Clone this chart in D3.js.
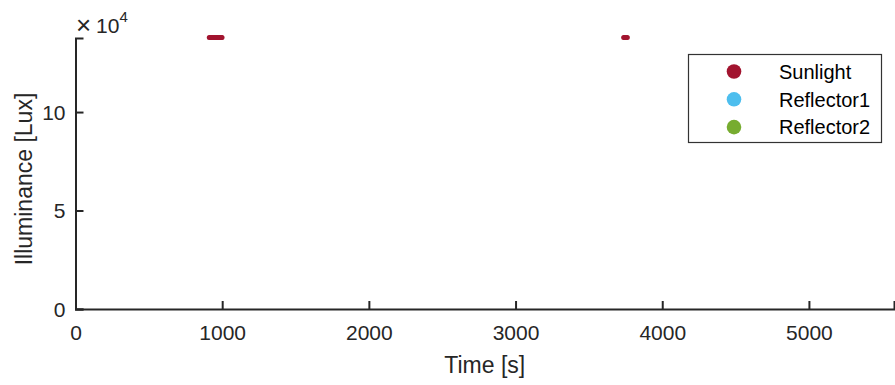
<!DOCTYPE html>
<html>
<head>
<meta charset="utf-8">
<script src="https://cdn.jsdelivr.net/npm/d3@7"></script>
<style>
  html, body { margin: 0; padding: 0; background: #fff; }
  svg { display: block; font-family: "Liberation Sans", Arial, Helvetica, sans-serif; }
</style>
</head>
<body>
<svg id="chart" width="895" height="385"></svg>
<script>
// ---- data ----
const seriesNames = ["Sunlight", "Reflector1", "Reflector2"];
const seriesColors = ["#A2142F", "#4DBEEE", "#77AC30"];
const sunlightTime = [912, 920, 928, 936, 944, 952, 960, 968, 976, 984, 992, 999, 3737, 3745, 3753, 3762];
const sunlightLux  = [137900, 137900, 137900, 137900, 137900, 137900, 137900, 137900, 137900, 137900, 137900, 137900, 137900, 137900, 137900, 137900];
const reflector1Time = [];
const reflector1Lux  = [];
const reflector2Time = [];
const reflector2Lux  = [];
const xTicks = [0, 1000, 2000, 3000, 4000, 5000];
const yTicks = [0, 50000, 100000];
const xDomain = [0, 5580];
const yDomain = [0, 137600];

// ---- layout ----
const svg = d3.select("#chart");
const L = 75.5, R = 894, T = 38, B = 309;
const x = d3.scaleLinear().domain(xDomain).range([L, R]);
const y = d3.scaleLinear().domain(yDomain).range([B, T]);
const axisColor = "#262626";

// x axis
const xAxis = d3.axisBottom(x).tickValues(xTicks).tickSize(-8).tickPadding(0).tickFormat(d3.format("d"));
const gx = svg.append("g").attr("transform", `translate(0,${B})`).call(xAxis);
gx.select(".domain").attr("stroke", axisColor).attr("stroke-width", 2);
gx.selectAll(".tick line").attr("stroke", axisColor).attr("stroke-width", 2);
gx.selectAll(".tick text").attr("fill", axisColor).attr("font-size", 21).attr("y", 31).attr("dy", 0);

// y axis
const yAxis = d3.axisLeft(y).tickValues(yTicks).tickSize(-8).tickPadding(0).tickFormat(d => d / 10000);
const gy = svg.append("g").attr("transform", `translate(${L},0)`).call(yAxis);
gy.select(".domain").attr("stroke", axisColor).attr("stroke-width", 2);
gy.selectAll(".tick line").attr("stroke", axisColor).attr("stroke-width", 2);
gy.selectAll(".tick text").attr("fill", axisColor).attr("font-size", 21).attr("x", -10).attr("dy", "0.35em");

// exponent label
svg.append("text").attr("x", 76).attr("y", 34).attr("fill", axisColor)
  .style("font-size", "26px").style("font-weight", 300).text("\u00d7");
svg.append("text").attr("x", 96).attr("y", 33).attr("fill", axisColor)
  .style("font-size", "21px").text("10");
svg.append("text").attr("x", 119.5).attr("y", 22).attr("fill", axisColor)
  .style("font-size", "15px").text("4");

// axis labels
svg.append("text").attr("x", (L + R) / 2).attr("y", 373).attr("text-anchor", "middle")
  .attr("fill", axisColor).style("font-size", "23px").text("Time [s]");
svg.append("text").attr("transform", `translate(32,179) rotate(-90)`).attr("text-anchor", "middle")
  .attr("fill", axisColor).style("font-size", "23px").text("Illuminance [Lux]");

// data points
const series = [
  { t: sunlightTime, v: sunlightLux },
  { t: reflector1Time, v: reflector1Lux },
  { t: reflector2Time, v: reflector2Lux }
];
series.forEach((s, i) => {
  svg.append("g").selectAll("circle").data(s.t.map((t, j) => [t, s.v[j]])).join("circle")
    .attr("cx", d => x(d[0])).attr("cy", d => y(d[1])).attr("r", 2.5)
    .attr("fill", seriesColors[i]);
});

// legend
const lg = svg.append("g");
lg.append("rect").attr("x", 688.5).attr("y", 54.5).attr("width", 193).attr("height", 88)
  .attr("fill", "#fff").attr("stroke", "#333").attr("stroke-width", 1.2);
seriesNames.forEach((name, i) => {
  const cy = 71.5 + i * 27.8;
  lg.append("circle").attr("cx", 734).attr("cy", cy).attr("r", 7.3).attr("fill", seriesColors[i]);
  lg.append("text").attr("x", 779).attr("y", cy).attr("dy", "0.36em").style("font-size", "20px")
    .attr("fill", "#000").text(name);
});
</script>
</body>
</html>
